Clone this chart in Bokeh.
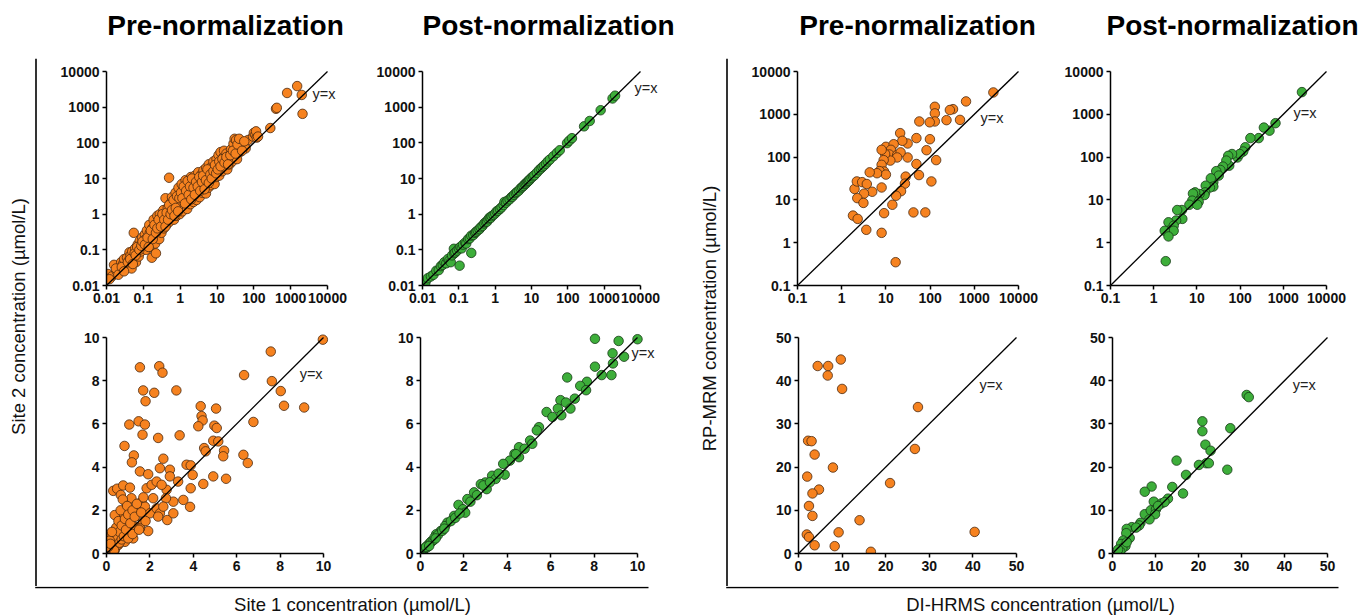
import numpy as np
from bokeh.plotting import figure
from bokeh.layouts import row, column
from bokeh.models import Range1d, FixedTicker, Label, ColumnDataSource, CustomJSTickFormatter
from bokeh.embed import file_html
from bokeh.resources import INLINE
from bokeh.core.properties import value

FONT = "Liberation Sans"
ORANGE = "#F6821F"
ORANGE_EDGE = "#4a2a10"
GREEN = "#3DAE3A"
GREEN_EDGE = "#173a17"

# ---------------- text ----------------
titles = ["Pre-normalization", "Post-normalization", "Pre-normalization", "Post-normalization"]
left_ylabel = "Site 2 concentration (µmol/L)"
left_xlabel = "Site 1 concentration (µmol/L)"
right_ylabel = "RP-MRM concentration (µmol/L)"
right_xlabel = "DI-HRMS concentration (µmol/L)"
yx_text = "y=x"

# ---------------- ticks ----------------
log_ticks_a = [0.01, 0.1, 1, 10, 100, 1000, 10000]
log_labels_a = ["0.01", "0.1", "1", "10", "100", "1000", "10000"]
log_ticks_b = [0.1, 1, 10, 100, 1000, 10000]
log_labels_b = ["0.1", "1", "10", "100", "1000", "10000"]
lin_ticks_a = [0, 2, 4, 6, 8, 10]
lin_labels_a = ["0", "2", "4", "6", "8", "10"]
lin_ticks_b = [0, 10, 20, 30, 40, 50]
lin_labels_b = ["0", "10", "20", "30", "40", "50"]

# ---------------- data (site 1 vs site 2) ----------------
site_pre_log = [
    (0.011, 0.021), (0.014, 0.018), (0.016, 0.038), (0.019, 0.025), (0.022, 0.03), (0.025, 0.045),
    (0.028, 0.04), (0.03, 0.055), (0.033, 0.035), (0.036, 0.06), (0.04, 0.05), (0.042, 0.085),
    (0.045, 0.07), (0.048, 0.03), (0.05, 0.09), (0.055, 0.3), (0.057, 0.06), (0.06, 0.11),
    (0.063, 0.045), (0.066, 0.08), (0.07, 0.14), (0.072, 0.1), (0.075, 0.065), (0.08, 0.18),
    (0.083, 0.12), (0.086, 0.09), (0.09, 0.15), (0.093, 0.22), (0.097, 0.11),
    (0.1, 0.16), (0.105, 0.13), (0.11, 0.27), (0.115, 0.2), (0.12, 0.1), (0.125, 0.35),
    (0.13, 0.15), (0.14, 0.23), (0.145, 0.5), (0.15, 0.3), (0.155, 0.12), (0.16, 0.19),
    (0.17, 0.06), (0.175, 0.4), (0.18, 0.26), (0.19, 0.7), (0.2, 0.32), (0.21, 0.15),
    (0.215, 0.45), (0.22, 0.08), (0.23, 0.25), (0.24, 0.9), (0.25, 0.55), (0.26, 0.35),
    (0.27, 0.2), (0.28, 1.0), (0.29, 0.42), (0.3, 0.65), (0.31, 0.3), (0.32, 0.5),
    (0.34, 0.8), (0.35, 1.3), (0.36, 0.4), (0.38, 0.6), (0.4, 2.8), (0.41, 1.0),
    (0.42, 0.5), (0.44, 0.75), (0.46, 1.5), (0.48, 0.9), (0.5, 10.5), (0.5, 0.6),
    (0.52, 1.2), (0.54, 2.0), (0.56, 0.8), (0.58, 1.6), (0.6, 3.0), (0.62, 1.0),
    (0.65, 1.4), (0.68, 0.7), (0.7, 2.2), (0.72, 1.1), (0.75, 4.0), (0.78, 1.7),
    (0.8, 0.9), (0.84, 2.6), (0.87, 1.3), (0.9, 5.5), (0.93, 1.9), (0.97, 1.0),
    (1.0, 3.2), (1.03, 1.5), (1.07, 2.2), (1.1, 7.0), (1.15, 1.2), (1.2, 4.5),
    (1.25, 2.6), (1.3, 1.6), (1.35, 3.5), (1.4, 9.0), (1.45, 2.0), (1.5, 5.5),
    (1.55, 1.4), (1.6, 3.0), (1.7, 7.5), (1.75, 2.3), (1.8, 4.2), (1.9, 1.9),
    (1.95, 11.0), (2.0, 5.0), (2.1, 3.0), (2.2, 8.0), (2.3, 2.2), (2.4, 4.0),
    (2.5, 12.0), (2.6, 6.0), (2.7, 3.2), (2.8, 2.5), (2.9, 9.5), (3.0, 4.5),
    (3.1, 15.0), (3.2, 6.5), (3.4, 3.0), (3.5, 10.0), (3.6, 5.0), (3.8, 13.0),
    (4.0, 4.0), (4.1, 7.5), (4.3, 17.0), (4.5, 6.0), (4.7, 11.0), (5.0, 3.8),
    (5.1, 20.0), (5.3, 8.0), (5.5, 14.0), (5.8, 5.5), (6.0, 25.0), (6.2, 9.0),
    (6.5, 16.0), (6.8, 6.5), (7.0, 12.0), (7.3, 22.0), (7.6, 8.5), (8.0, 30.0),
    (8.3, 14.0), (8.6, 7.0), (9.0, 19.0), (9.4, 11.0), (9.7, 35.0),
    (10, 15), (10.5, 25), (11, 45), (11.5, 12), (12, 20), (12.5, 55), (13, 30),
    (14, 16), (15, 40), (15.5, 60), (16, 22), (17, 28), (18, 50), (19, 18),
    (20, 35), (22, 25), (24, 65), (26, 30), (28, 95), (30, 130), (31, 45),
    (33, 120), (35, 35), (38, 80), (42, 55), (45, 100), (50, 75), (60, 70), (70, 120),
    (95, 150), (100, 190), (110, 170), (115, 210), (120, 140), (130, 150),
    (280, 260), (400, 900), (420, 960), (800, 2500), (1500, 3900), (2000, 2200), (2100, 650),
    (0.012, 0.015), (0.018, 0.03), (0.021, 0.02), (0.026, 0.033), (0.03, 0.025), (0.038, 0.045),
    (0.044, 0.055), (0.052, 0.04), (0.058, 0.08), (0.062, 0.07), (0.068, 0.12), (0.078, 0.1),
    (0.088, 0.13), (0.095, 0.17), (0.11, 0.14), (0.13, 0.22), (0.14, 0.12), (0.16, 0.35),
    (0.18, 0.2), (0.2, 0.5), (0.22, 0.3), (0.24, 0.4), (0.26, 0.7), (0.3, 0.45),
    (0.33, 1.0), (0.37, 0.7), (0.4, 0.45), (0.43, 1.1), (0.47, 0.7), (0.5, 1.8),
    (0.55, 1.0), (0.6, 1.3), (0.66, 2.5), (0.7, 0.9), (0.76, 1.5), (0.82, 3.2),
    (0.88, 1.2), (0.95, 2.8), (1.05, 4.0), (1.15, 2.8), (1.25, 6.0), (1.35, 2.0),
    (1.45, 4.5), (1.6, 8.5), (1.7, 3.5), (1.85, 6.0), (2.0, 2.6), (2.1, 10.0),
    (2.3, 5.5), (2.5, 3.5), (2.7, 8.0), (3.0, 6.0), (3.3, 11.0), (3.5, 4.5),
    (3.9, 8.0), (4.2, 12.0), (4.6, 5.0), (5.0, 9.0), (5.5, 18.0), (6.0, 7.5),
    (6.6, 13.0), (7.2, 10.0), (8.0, 16.0), (8.8, 24.0), (9.5, 14.0), (10.5, 18.0),
    (11.5, 30.0), (12.5, 22.0), (14, 35), (16, 28), (18, 40), (20, 25), (23, 45),
    (27, 60), (32, 50), (36, 90), (40, 130), (48, 60), (55, 110),
]

site_post_log = [
    (0.012, 0.012), (0.014, 0.016), (0.017, 0.018), (0.02, 0.02), (0.024, 0.026), (0.028, 0.027),
    (0.032, 0.035), (0.036, 0.038), (0.04, 0.045), (0.045, 0.042), (0.05, 0.055), (0.055, 0.05),
    (0.06, 0.045), (0.065, 0.07), (0.073, 0.107), (0.075, 0.08), (0.08, 0.085), (0.09, 0.095),
    (0.105, 0.036), (0.1, 0.11), (0.11, 0.12), (0.12, 0.11), (0.13, 0.14), (0.15, 0.16),
    (0.16, 0.15), (0.18, 0.2), (0.2, 0.21), (0.22, 0.082), (0.22, 0.25), (0.25, 0.26),
    (0.28, 0.3), (0.3, 0.32), (0.33, 0.35), (0.37, 0.38), (0.4, 0.43), (0.45, 0.47),
    (0.5, 0.55), (0.55, 0.6), (0.6, 0.62), (0.65, 0.72), (0.7, 0.8), (0.75, 0.78),
    (0.8, 0.88), (0.9, 0.95), (1.0, 1.05), (1.1, 1.2), (1.2, 1.25), (1.35, 1.4),
    (1.5, 1.55), (1.7, 1.8), (1.8, 2.2), (2.0, 2.1), (2.2, 2.4), (2.5, 2.6),
    (2.8, 3.0), (3.0, 3.1), (3.3, 3.5), (3.7, 3.9), (4.0, 4.2), (4.5, 4.6),
    (5.0, 5.3), (5.5, 5.7), (6.0, 6.2), (6.5, 6.9), (7.0, 7.2), (7.5, 7.8),
    (8.0, 8.4), (8.5, 8.7), (9.0, 9.5), (10, 10.5), (11, 11.5), (12, 12.3),
    (14, 14.5), (16, 17), (18, 19), (20, 21), (22, 23), (25, 26), (28, 30),
    (32, 34), (40, 42), (50, 52), (60, 62), (95, 98), (110, 115), (130, 135),
    (280, 290), (400, 410), (800, 820), (1700, 1750), (2000, 2100),
]

site_pre_lin = [
    (9.97, 9.9), (7.57, 9.35), (6.34, 8.26), (7.62, 7.98), (8.03, 7.52), (8.18, 6.84),
    (9.11, 6.76), (6.77, 6.09), (1.54, 8.62), (2.43, 8.67), (2.58, 8.37), (1.69, 7.55),
    (2.2, 7.44), (1.8, 7.05), (3.22, 7.55), (1.48, 6.12), (1.77, 5.97), (1.05, 5.97),
    (1.66, 5.5), (2.38, 5.35), (3.37, 5.47), (0.83, 4.98), (1.26, 4.54), (1.17, 4.22),
    (1.54, 3.8), (1.92, 3.67), (2.62, 4.39), (2.46, 3.95), (2.92, 3.88), (2.92, 3.57),
    (3.3, 3.33), (3.69, 4.11), (3.88, 4.08), (3.97, 3.64), (3.88, 3.02), (3.85, 2.16),
    (3.54, 2.48), (3.08, 2.4), (2.8, 1.55), (3.08, 1.86), (1.92, 1.04), (4.34, 6.82),
    (4.38, 6.36), (4.43, 6.16), (4.23, 5.89), (5.05, 6.71), (4.97, 5.92), (5.08, 5.81),
    (4.92, 5.22), (5.15, 5.19), (4.5, 4.88), (4.57, 4.73), (5.42, 4.76), (5.38, 4.5),
    (4.92, 3.57), (5.51, 3.46), (4.46, 3.22), (6.31, 4.57), (6.51, 4.19), (0.31, 2.9),
    (0.49, 3.0), (0.77, 3.15), (1.08, 3.05), (0.66, 2.71), (0.92, 2.33), (0.62, 1.78),
    (0.38, 1.78), (1.15, 2.56), (1.38, 1.94), (1.62, 2.4), (1.77, 2.17), (2.0, 1.86),
    (2.15, 2.56), (2.31, 2.09), (2.46, 1.86), (2.38, 1.71), (2.77, 2.95), (2.74, 2.56),
    (2.62, 2.17), (1.85, 3.02), (2.08, 3.18), (2.31, 3.33), (2.54, 3.18), (1.69, 1.47),
    (1.31, 1.24), (1.0, 1.47), (0.77, 1.09), (0.54, 0.85), (0.31, 0.7), (0.15, 0.47),
    (0.08, 0.23), (0.23, 0.85), (0.46, 1.16), (0.69, 1.47), (1.08, 0.85), (1.23, 0.7),
    (1.54, 1.16), (0.85, 0.54), (0.54, 0.39), (0.38, 0.16), (0.23, 0.08),
    (0.05, 0.05), (0.1, 0.15), (0.12, 0.05), (0.15, 0.3), (0.2, 0.1), (0.2, 0.25),
    (0.25, 0.6), (0.3, 0.2), (0.3, 0.4), (0.35, 0.9), (0.4, 0.3), (0.4, 0.55),
    (0.45, 1.2), (0.5, 0.4), (0.5, 0.75), (0.55, 1.5), (0.6, 0.5), (0.6, 1.0),
    (0.65, 2.0), (0.7, 0.65), (0.7, 1.3), (0.75, 2.5), (0.8, 0.8), (0.85, 1.6),
    (0.9, 1.1), (0.95, 2.2), (1.0, 0.7), (1.0, 1.8), (1.1, 1.4), (1.2, 0.9),
    (1.2, 2.0), (1.3, 1.7), (1.4, 2.3), (1.5, 1.1), (1.6, 1.9), (1.7, 2.6),
    (1.8, 1.5), (0.15, 0.6), (0.25, 1.0), (0.35, 0.15), (0.08, 0.3), (0.18, 0.45),
]

site_post_lin = [
    (8.04, 9.94), (9.13, 9.84), (10.0, 9.92), (8.85, 9.27), (9.38, 9.11), (8.04, 8.65),
    (8.35, 8.26), (8.8, 8.26), (8.87, 8.8), (6.76, 8.15), (7.67, 7.95), (7.36, 7.76),
    (7.63, 7.56), (7.11, 7.17), (5.81, 6.55), (6.45, 7.1), (6.33, 6.71), (6.7, 6.99),
    (6.91, 6.71), (6.49, 6.4), (6.08, 6.32), (5.46, 5.85), (5.36, 5.7), (5.05, 5.23),
    (5.15, 5.08), (4.54, 4.92), (4.33, 4.61), (4.54, 4.46), (4.12, 4.3), (3.81, 4.15),
    (3.88, 3.65), (3.3, 3.6), (3.46, 3.45), (2.99, 3.29), (2.78, 3.21), (3.05, 2.98),
    (2.47, 2.83), (2.16, 2.52), (1.75, 2.25), (1.96, 2.05), (2.06, 1.89), (1.55, 1.74),
    (1.24, 1.43), (1.13, 1.27), (0.93, 1.04), (0.72, 0.89), (0.52, 0.57), (0.31, 0.34),
    (0.1, 0.14), (0.05, 0.06), (0.15, 0.17), (0.2, 0.25), (0.3, 0.28), (0.35, 0.4),
    (0.45, 0.5), (0.5, 0.55), (0.6, 0.62), (0.65, 0.75), (0.8, 0.85), (1.0, 1.05),
    (1.1, 1.15), (1.4, 1.5), (1.6, 1.65), (1.8, 1.85), (2.3, 2.4), (2.6, 2.7),
    (2.9, 3.15), (3.2, 3.3), (3.6, 3.7), (4.4, 4.6), (4.8, 4.85), (0.25, 0.3),
    (0.4, 0.35), (0.7, 0.7),
]

# ---------------- data (DI-HRMS vs RP-MRM) ----------------
method_pre_log = [
    (2700, 3240), (650, 2000), (475, 740), (330, 1320), (280, 1260), (235, 730),
    (128, 1500), (128, 1050), (128, 680), (98, 650), (57, 680), (99, 262),
    (83, 145), (137, 85), (107, 27), (56, 38), (49, 69), (49, 278), (31, 208),
    (31, 98), (28, 35), (27, 24), (21, 363), (23.5, 240), (22, 16), (42, 5.1),
    (78, 5.1), (14, 7.7), (17, 12.5), (10, 174), (15, 200), (13, 148), (12, 115),
    (18, 112), (21.5, 129), (18, 98), (12.6, 83), (9.6, 118), (8, 148), (8.9, 85),
    (8, 66), (9.1, 46), (7.2, 47), (10, 39), (6.3, 42), (4.3, 44), (8, 19.5),
    (9.1, 4.9), (8, 1.7), (3.6, 2.0), (16.6, 0.35), (1.95, 18), (2.2, 27),
    (2.9, 26), (3.7, 23.5), (4.9, 15.5), (3.2, 14), (2.25, 11), (3.1, 8.5),
    (1.8, 4.3), (2.3, 3.6),
]

method_post_log = [
    (2700, 3300), (660, 620), (480, 415), (355, 490), (270, 278), (173, 278),
    (132, 170), (118, 135), (87, 98), (98, 118), (65, 118), (53, 107), (56, 63),
    (48, 83), (40, 60), (35, 50), (28, 47), (32, 37), (24, 26), (21, 32),
    (24, 20.5), (20, 19.5), (16, 21.5), (15.5, 15), (15, 13), (11.5, 13.7),
    (9.8, 11.5), (9.1, 15), (8.1, 14), (7.8, 9.6), (6.7, 7.7), (11, 9.1),
    (10.2, 7.7), (4.5, 5.8), (3.5, 5.8), (4.6, 3.6), (3.3, 3.3), (2.2, 3.0),
    (2.9, 2.5), (2.2, 1.9), (2.9, 1.9), (1.8, 1.9), (2.2, 1.4), (1.9, 0.37),
]

method_pre_lin = [
    (4.4, 43.4), (6.8, 43.4), (9.7, 44.9), (6.7, 41.2), (10.0, 38.1), (27.4, 33.9),
    (26.7, 24.2), (21.0, 16.3), (2.2, 26.1), (3.0, 26.0), (3.7, 22.9), (2.0, 17.8),
    (7.9, 19.9), (4.7, 14.8), (3.2, 13.9), (2.4, 11.0), (3.2, 8.7), (1.9, 4.4),
    (2.4, 3.8), (3.7, 1.9), (14.0, 7.7), (9.2, 4.9), (8.3, 1.7), (16.6, 0.4), (40.4, 5.0),
]

method_post_lin = [
    (31.2, 36.7), (31.7, 36.2), (27.4, 29.0), (20.9, 30.6), (20.9, 28.3), (21.6, 25.2),
    (22.8, 23.8), (21.8, 20.9), (22.4, 20.9), (20.1, 20.5), (26.7, 19.4), (14.9, 21.5),
    (17.1, 18.2), (13.9, 15.4), (16.4, 13.9), (9.1, 15.5), (7.5, 14.3), (9.6, 12.0),
    (11.4, 11.6), (12.9, 12.7), (12.1, 11.9), (7.5, 9.1), (8.9, 10.0), (10.1, 10.2),
    (9.9, 9.1), (8.6, 7.9), (6.5, 7.1), (6.2, 6.5), (4.5, 6.1), (3.3, 5.7),
    (4.0, 3.6), (3.2, 4.7), (2.5, 3.0), (2.0, 2.2), (3.0, 1.7), (2.3, 1.2),
    (1.8, 0.5), (1.3, 0.9), (3.3, 2.6), (5.5, 6.0), (10.6, 11.0),
]

lim_log_a = (0.01, 10000)
lim_log_b = (0.1, 10000)
lim_lin_a = (0, 10)
lim_lin_b = (0, 50)

PAD_R = 20   # free space right of the axis end (inside frame)
PAD_T = 10   # free space above the axis end (inside frame)


def log_formatter(tick_vals, tick_text):
    return CustomJSTickFormatter(args=dict(tv=tick_vals, tt=tick_text), code="""
        for (let i = 0; i < tv.length; i++) {
            if (Math.abs(tv[i] - tick) <= 1e-6 * Math.abs(tv[i]) + 1e-12) return tt[i];
        }
        return "";
    """)


def panel(fig_box, axis_box, log, lim, ticks, labels, pts, fill, edge, label_xy):
    fx0, fx1, fy0, fy1 = fig_box
    ax0, ax1, ay0, ay1 = axis_box  # ay0 top pixel, ay1 bottom pixel
    w = fx1 - fx0
    h = fy1 - fy0
    lo, hi = lim
    if log:
        llo, lhi = np.log10(lo), np.log10(hi)
        dx = (lhi - llo) / (ax1 - ax0) * PAD_R
        dy = (lhi - llo) / (ay1 - ay0) * PAD_T
        xr = Range1d(lo, 10 ** (lhi + dx))
        yr = Range1d(lo, 10 ** (lhi + dy))
        atype = "log"
    else:
        dx = (hi - lo) / (ax1 - ax0) * PAD_R
        dy = (hi - lo) / (ay1 - ay0) * PAD_T
        xr = Range1d(lo, hi + dx)
        yr = Range1d(lo, hi + dy)
        atype = "linear"
    p = figure(width=w, height=h, x_range=xr, y_range=yr, x_axis_type=atype, y_axis_type=atype,
               output_backend="svg", toolbar_location=None, title=None,
               min_border_left=ax0 - fx0, min_border_right=fx1 - (ax1 + PAD_R),
               min_border_top=(ay0 - PAD_T) - fy0, min_border_bottom=fy1 - ay1)
    p.outline_line_color = None
    p.grid.visible = False
    xs = [a for a, b in pts]
    ys = [b for a, b in pts]
    src = ColumnDataSource(dict(x=xs, y=ys))
    p.scatter("x", "y", source=src, size=9.5, fill_color=fill, line_color=edge, line_width=0.8)
    p.line(x=[lo, hi], y=[lo, hi], line_color="black", line_width=1.3)
    for ax in (p.xaxis[0], p.yaxis[0]):
        ax.ticker = FixedTicker(ticks=ticks, minor_ticks=[])
        if log:
            ax.formatter = log_formatter(ticks, labels)
        else:
            ax.major_label_overrides = {t: l for t, l in zip(ticks, labels)}
        ax.bounds = (lo, hi)
        ax.axis_line_width = 1.5
        ax.axis_line_color = "black"
        ax.major_tick_line_width = 1.5
        ax.major_tick_out = 4
        ax.major_tick_in = 0
        ax.minor_tick_out = 0
        ax.minor_tick_in = 0
        ax.major_label_text_font = FONT
        ax.major_label_text_font_style = "bold"
        ax.major_label_text_font_size = "14px"
        ax.major_label_text_color = "#111111"
        ax.major_label_standoff = 3
    p.add_layout(Label(x=label_xy[0], y=label_xy[1], text=yx_text, text_font=FONT,
                       text_font_size="14.5px", text_color="#222222",
                       text_align="left", text_baseline="middle"))
    return p


def blank(w, h):
    p = figure(width=w, height=h, x_range=Range1d(0, w), y_range=Range1d(0, h),
               output_backend="svg", toolbar_location=None, title=None,
               x_axis_location=None, y_axis_location=None, min_border=0)
    p.outline_line_color = None
    p.grid.visible = False
    return p


# layout in page pixels
TOP0, MID, BOT, PAGE_H, PAGE_W = 58, 318, 586, 615, 1362

P1 = panel((37, 365, TOP0, MID), (106, 327, 71, 285), True, lim_log_a, log_ticks_a, log_labels_a,
           site_pre_log, ORANGE, ORANGE_EDGE, (3900, 2270))
P2 = panel((365, 680, TOP0, MID), (422, 640, 71, 285), True, lim_log_a, log_ticks_a, log_labels_a,
           site_post_log, GREEN, GREEN_EDGE, (6800, 3550))
P1b = panel((37, 365, MID, BOT), (106, 323, 337, 553), False, lim_lin_a, lin_ticks_a, lin_labels_a,
            site_pre_lin, ORANGE, ORANGE_EDGE, (8.9, 8.33))
P2b = panel((365, 680, MID, BOT), (420, 637, 337, 553), False, lim_lin_a, lin_ticks_a, lin_labels_a,
            site_post_lin, GREEN, GREEN_EDGE, (9.72, 9.26))
P3 = panel((729, 1050, TOP0, MID), (797, 1018, 71, 285), True, lim_log_b, log_ticks_b, log_labels_b,
           method_pre_log, ORANGE, ORANGE_EDGE, (1380, 840))
P4 = panel((1050, PAGE_W, TOP0, MID), (1110, 1326, 71, 285), True, lim_log_b, log_ticks_b, log_labels_b,
           method_post_log, GREEN, GREEN_EDGE, (1720, 1050))
P3b = panel((729, 1050, MID, BOT), (798, 1016, 337, 553), False, lim_lin_b, lin_ticks_b, lin_labels_b,
            method_pre_lin, ORANGE, ORANGE_EDGE, (41.5, 39.1))
P4b = panel((1050, PAGE_W, MID, BOT), (1112, 1327, 337, 553), False, lim_lin_b, lin_ticks_b, lin_labels_b,
            method_post_lin, GREEN, GREEN_EDGE, (41.9, 39.1))

# titles
T = blank(PAGE_W, TOP0)
T.text(x=[225, 548, 917, 1232], y=[33, 33, 33, 33], text=titles, text_font=value(FONT),
       text_font_size=value("28px"), text_font_style="bold", text_align="center",
       text_baseline="middle", text_color="black")

# left label + bracket
LL = blank(37, BOT - TOP0)
LL.line(x=[35.5, 35.5], y=[0, BOT - TOP0], line_color="black", line_width=1.6)
LL.text(x=[18], y=[BOT - 316], text=[left_ylabel], angle=np.pi / 2, text_font=value(FONT),
        text_font_size=value("18.5px"), text_align="center", text_baseline="middle", text_color="#111111")

RL = blank(49, BOT - TOP0)
RL.line(x=[46.5, 46.5], y=[0, BOT - TOP0], line_color="black", line_width=1.6)
RL.text(x=[29], y=[BOT - 318], text=[right_ylabel], angle=np.pi / 2, text_font=value(FONT),
        text_font_size=value("18.5px"), text_align="center", text_baseline="middle", text_color="#111111")

B = blank(PAGE_W, PAGE_H - BOT)
B.line(x=[34.7, 648], y=[PAGE_H - 587, PAGE_H - 587], line_color="black", line_width=1.6)
B.line(x=[725.7, 1338], y=[PAGE_H - 587, PAGE_H - 587], line_color="black", line_width=1.6)
B.text(x=[352, 1040], y=[PAGE_H - 604, PAGE_H - 604], text=[left_xlabel, right_xlabel],
       text_font=value(FONT), text_font_size=value("18.5px"), text_align="center",
       text_baseline="middle", text_color="#111111")

left_group = column(row(P1, P2), row(P1b, P2b))
right_group = column(row(P3, P4), row(P3b, P4b))
main = row(LL, left_group, RL, right_group)
layout = column(T, main, B)

open("out.html", "w").write(file_html(layout, INLINE))
